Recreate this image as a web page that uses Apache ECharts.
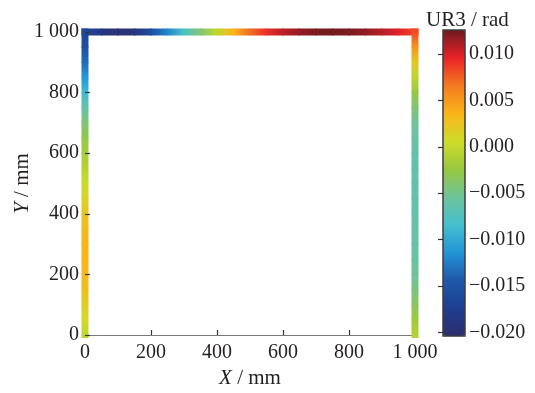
<!DOCTYPE html>
<html>
<head>
<meta charset="utf-8">
<script src="https://cdn.jsdelivr.net/npm/echarts@6/dist/echarts.min.js"></script>
<style>html,body{margin:0;padding:0;background:#fff;}#c{width:535px;height:393px;}</style>
</head>
<body>
<div id="c"></div>
<script>
// ---- data ----
const leftY    = [0, 50, 100, 150, 200, 250, 300, 350, 400, 450, 500, 550, 600, 650, 700, 750, 800, 850, 900, 950, 1000];
const leftVals = [-0.0003, 0.0008, 0.0018, 0.0027, 0.0033, 0.0036, 0.0035, 0.0031, 0.0024, 0.0014, 0.0003,
                  -0.0007, -0.0017, -0.0028, -0.0042, -0.0062, -0.0088, -0.0112, -0.0134, -0.0152, -0.0163];
const beamX    = [0, 50, 100, 150, 200, 250, 300, 350, 400, 450, 500, 550, 600, 650, 700, 750, 800, 850, 900, 950, 1000];
const beamVals = [-0.0163, -0.0183, -0.0196, -0.0190, -0.0155, -0.0121, -0.0078, -0.0040, -0.0002, 0.0037, 0.0070,
                  0.0092, 0.0107, 0.0117, 0.0123, 0.0125, 0.0123, 0.0117, 0.0109, 0.0097, 0.0082];
const rightY   = [1000, 950, 900, 850, 800, 750, 700, 650, 600, 550, 500, 450, 400, 350, 300, 250, 200, 150, 100, 50, 0];
const rightVals= [0.0082, 0.0052, 0.0022, -0.0004, -0.0025, -0.0042, -0.0054, -0.0060, -0.0063, -0.0064, -0.0064,
                  -0.0064, -0.0063, -0.0062, -0.0061, -0.0058, -0.0054, -0.0046, -0.0034, -0.0020, -0.0009];

const xTicks = [0, 200, 400, 600, 800, 1000];
const xTickLabels = ['0', '200', '400', '600', '800', '1 000'];
const yTicks = [0, 200, 400, 600, 800, 1000];
const yTickLabels = ['0', '200', '400', '600', '800', '1 000'];
const cbTicks = [-0.020, -0.015, -0.010, -0.005, 0.000, 0.005, 0.010];
const cbMin = -0.0204, cbMax = 0.0126;
const cmap = ['#2e2d6c', '#1e3e8f', '#1f58a8', '#2294d6', '#45c0d0', '#6fc39a',
              '#98c83f', '#cfdc2a', '#fbb41a', '#f47a20', '#e8222a', '#6e1a1e'];

// one continuous path: left column up, beam across, right column down
const pathData = [];
leftY.forEach((y, i) => pathData.push([0, y, leftVals[i]]));
beamX.slice(1).forEach((x, i) => pathData.push([x, 1000, beamVals[i + 1]]));
rightY.slice(1).forEach((y, i) => pathData.push([1000, y, rightVals[i + 1]]));

const FONT = '"Liberation Serif", "Times New Roman", serif';
const TXT = '#231f20';
const minus = s => s.replace('-', '\u2212');
const LW = 7;

const chart = echarts.init(document.getElementById('c'), null, {renderer: 'canvas'});
const N = pathData.length;

function isCorner(j) {
  if (j <= 0 || j >= N - 1) return false;
  const a = pathData[j - 1], b = pathData[j], c = pathData[j + 1];
  const d1x = Math.sign(b[0] - a[0]), d1y = Math.sign(b[1] - a[1]);
  const d2x = Math.sign(c[0] - b[0]), d2y = Math.sign(c[1] - b[1]);
  return d1x !== d2x || d1y !== d2y;
}

chart.setOption({
  animation: false,
  backgroundColor: '#fff',
  title: {
    text: 'UR3 / rad', left: 421, top: 5,
    textStyle: {fontFamily: FONT, fontSize: 21, fontWeight: 'normal', color: TXT}
  },
  grid: [
    {left: 85, top: 32, width: 330, height: 303, containLabel: false, outerBoundsMode: 'none'},
    {left: 443, top: 30, width: 22, height: 306, show: true, borderColor: '#3d3d3d',
     borderWidth: 1.5, backgroundColor: 'transparent', z: 10, containLabel: false, outerBoundsMode: 'none'}
  ],
  xAxis: [
    {type: 'value', gridIndex: 0, min: 0, max: 1000, interval: 200,
     name: '{i|X} / mm', nameLocation: 'middle', nameGap: 33, nameMoveOverlap: false,
     nameTextStyle: {fontFamily: FONT, fontSize: 21, color: TXT,
       rich: {i: {fontFamily: FONT, fontSize: 21, fontStyle: 'italic', color: TXT}}},
     axisLine: {show: true, lineStyle: {color: '#7a7a7a', width: 1.2}},
     axisTick: {show: true, inside: true, length: 5, lineStyle: {color: '#333', width: 1.2}},
     axisLabel: {fontFamily: FONT, fontSize: 20, color: TXT, margin: 8,
       formatter: v => xTickLabels[xTicks.indexOf(v)]},
     splitLine: {show: false}},
    {type: 'value', gridIndex: 1, min: 0, max: 1, show: false}
  ],
  yAxis: [
    {type: 'value', gridIndex: 0, min: 0, max: 1000, interval: 200, z: 5,
     name: '{i|Y} / mm', nameLocation: 'middle', nameGap: 52, nameRotate: 90, nameMoveOverlap: false,
     nameTextStyle: {fontFamily: FONT, fontSize: 21, color: TXT,
       rich: {i: {fontFamily: FONT, fontSize: 21, fontStyle: 'italic', color: TXT}}},
     axisLine: {show: false},
     axisTick: {show: true, inside: true, length: 5, lineStyle: {color: '#333', width: 1.2}},
     axisLabel: {fontFamily: FONT, fontSize: 20, color: TXT, margin: 6,
       formatter: v => yTickLabels[yTicks.indexOf(v)]},
     splitLine: {show: false}},
    {type: 'value', gridIndex: 1, min: cbMin, max: cbMax, position: 'right', z: 11,
     axisLine: {show: false},
     axisTick: {show: true, inside: true, length: 5, customValues: cbTicks,
       lineStyle: {color: '#333', width: 1.2}},
     axisLabel: {fontFamily: FONT, fontSize: 20, color: TXT, margin: 4, customValues: cbTicks,
       formatter: v => minus(v.toFixed(3))},
     splitLine: {show: false}}
  ],
  visualMap: {
    type: 'continuous', min: cbMin, max: cbMax, dimension: 2, seriesIndex: 0,
    inRange: {color: cmap}, left: 443, top: 30, itemWidth: 22, itemHeight: 306,
    padding: 0, calculable: false, text: null, showLabel: false, hoverLink: false
  },
  series: [{
    type: 'custom',
    coordinateSystem: 'cartesian2d', xAxisIndex: 0, yAxisIndex: 0,
    encode: {x: 0, y: 1},
    data: pathData,
    clip: false,
    renderItem: function (params, api) {
      const i = params.dataIndexInside;
      if (i >= N - 1) return null;
      const p1 = api.coord([api.value(0, i), api.value(1, i)]);
      const p2 = api.coord([api.value(0, i + 1), api.value(1, i + 1)]);
      const c1 = api.visual('color', i);
      const c2 = api.visual('color', i + 1);
      const len = Math.hypot(p2[0] - p1[0], p2[1] - p1[1]);
      const ux = (p2[0] - p1[0]) / len, uy = (p2[1] - p1[1]) / len;
      const e1 = (i === 0) ? 3 : (isCorner(i) ? LW / 2 : 0.6);
      const e2 = (i === N - 2) ? 3 : (isCorner(i + 1) ? LW / 2 : 0.6);
      return {
        type: 'line',
        shape: {x1: p1[0] - ux * e1, y1: p1[1] - uy * e1, x2: p2[0] + ux * e2, y2: p2[1] + uy * e2},
        style: {
          fill: null,
          stroke: new echarts.graphic.LinearGradient(p1[0], p1[1], p2[0], p2[1],
            [{offset: 0, color: c1}, {offset: 1, color: c2}], true),
          lineWidth: LW, lineCap: 'butt'
        }
      };
    }
  }]
});
</script>
</body>
</html>
